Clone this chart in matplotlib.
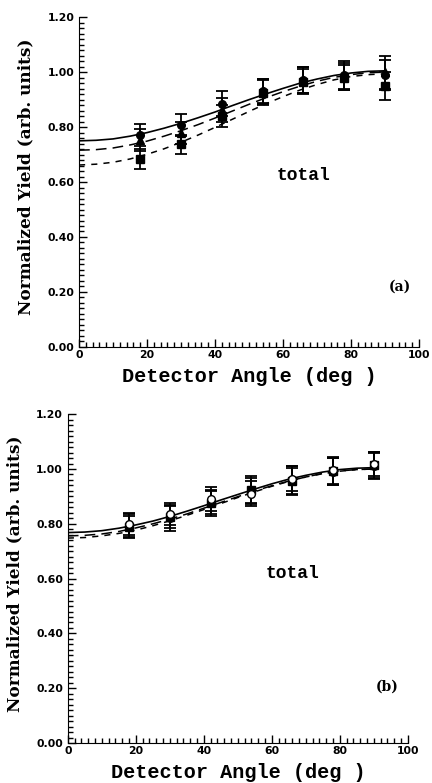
"""Normalized yield vs detector angle, two stacked panels."""

import matplotlib
matplotlib.use("Agg")
import matplotlib.pyplot as plt
from matplotlib.ticker import MultipleLocator, FormatStrFormatter

angles = [18, 30, 42, 54, 66, 78, 90]
curve_angles = [0, 5, 10, 15, 20, 25, 30, 35, 40, 45, 50, 55, 60, 65, 70, 75, 80, 85, 90]

# panel (a)
a_circle = [0.771, 0.807, 0.885, 0.931, 0.971, 0.990, 0.990]
a_circle_err = [0.040, 0.040, 0.045, 0.045, 0.047, 0.050, 0.055]
a_tri = [0.753, 0.778, 0.862, 0.930, 0.970, 0.985, 1.000]
a_tri_err = [0.040, 0.040, 0.045, 0.045, 0.047, 0.050, 0.060]
a_sq = [0.684, 0.738, 0.840, 0.925, 0.965, 0.980, 0.949]
a_sq_err = [0.035, 0.035, 0.040, 0.045, 0.045, 0.045, 0.050]
a_solid = [0.750, 0.752, 0.757, 0.767, 0.780, 0.796, 0.814, 0.834, 0.855, 0.878,
           0.900, 0.921, 0.941, 0.960, 0.975, 0.988, 0.997, 1.003, 1.005]
a_long = [0.716, 0.718, 0.724, 0.735, 0.749, 0.767, 0.787, 0.809, 0.833, 0.858,
          0.883, 0.907, 0.929, 0.949, 0.967, 0.981, 0.991, 0.998, 1.000]
a_short = [0.662, 0.665, 0.672, 0.684, 0.701, 0.721, 0.745, 0.771, 0.799, 0.828,
           0.857, 0.885, 0.911, 0.935, 0.955, 0.972, 0.984, 0.991, 0.994]

# panel (b)
b_sq = [0.790, 0.825, 0.875, 0.925, 0.955, 0.992, 1.014]
b_sq_err = [0.040, 0.042, 0.045, 0.050, 0.050, 0.050, 0.048]
b_open = [0.800, 0.835, 0.890, 0.910, 0.965, 0.995, 1.018]
b_open_err = [0.040, 0.040, 0.045, 0.045, 0.045, 0.050, 0.045]
b_dot = [0.795, 0.820, 0.880, 0.920, 0.960, 0.990, 1.012]
b_dot_err = [0.042, 0.045, 0.045, 0.048, 0.050, 0.050, 0.048]
b_solid = [0.768, 0.770, 0.775, 0.784, 0.796, 0.810, 0.827, 0.846, 0.866, 0.887,
           0.907, 0.927, 0.946, 0.963, 0.977, 0.989, 0.998, 1.003, 1.005]
b_long = [0.756, 0.758, 0.763, 0.772, 0.785, 0.800, 0.817, 0.836, 0.857, 0.878,
          0.899, 0.920, 0.939, 0.956, 0.971, 0.984, 0.993, 0.998, 1.000]
b_short = [0.748, 0.750, 0.756, 0.765, 0.777, 0.793, 0.811, 0.831, 0.852, 0.874,
           0.896, 0.917, 0.937, 0.955, 0.971, 0.983, 0.992, 0.998, 1.000]

TICK_FONT = {"family": "DejaVu Sans", "weight": "bold", "size": 7.8}
LABEL_X = {"family": "Liberation Mono", "weight": "bold", "size": 14.5}
LABEL_Y = {"family": "DejaVu Serif", "weight": "bold", "size": 12.2}


def style_axes(ax):
    ax.set_xlim(0, 100)
    ax.set_ylim(0, 1.2)
    ax.spines["top"].set_visible(False)
    ax.spines["right"].set_visible(False)
    ax.xaxis.set_major_locator(MultipleLocator(20))
    ax.xaxis.set_minor_locator(MultipleLocator(2))
    ax.yaxis.set_major_locator(MultipleLocator(0.2))
    ax.yaxis.set_minor_locator(MultipleLocator(0.02))
    ax.yaxis.set_major_formatter(FormatStrFormatter("%.2f"))
    ax.tick_params(which="both", direction="in", width=1.0)
    ax.tick_params(which="major", length=6)
    ax.tick_params(which="minor", length=3.5)
    ax.tick_params(axis="x", pad=2)
    for lab in ax.get_xticklabels() + ax.get_yticklabels():
        lab.set_fontfamily(TICK_FONT["family"])
        lab.set_fontweight(TICK_FONT["weight"])
        lab.set_fontsize(TICK_FONT["size"])
    ax.set_xlabel("Detector Angle (deg )", fontdict=LABEL_X, labelpad=5)
    ax.set_ylabel("Normalized Yield (arb. units)", fontdict=LABEL_Y)
    ax.yaxis.set_label_coords(-0.13, 0.515)


def draw_points(ax, y, err, marker, fill="black"):
    ax.errorbar(angles, y, yerr=err, fmt=marker, color="black", mfc=fill, mec="black",
                ms=5.5, elinewidth=1.3, capsize=4.5, capthick=1.3)


fig = plt.figure(figsize=(4.32, 7.83), dpi=100)
ax_a = fig.add_axes([0.183, 0.557, 0.787, 0.421])
ax_b = fig.add_axes([0.157, 0.051, 0.787, 0.420])

ax_a.plot(curve_angles, a_solid, color="black", lw=1.2)
ax_a.plot(curve_angles, a_long, color="black", lw=1.1, dashes=(7, 4))
ax_a.plot(curve_angles, a_short, color="black", lw=1.1, dashes=(4, 4))
draw_points(ax_a, a_sq, a_sq_err, "s")
draw_points(ax_a, a_tri, a_tri_err, "^")
draw_points(ax_a, a_circle, a_circle_err, "o")
style_axes(ax_a)
ax_a.text(66, 0.625, "total", family="Liberation Mono", weight="bold", size=13,
          ha="center", va="center")
ax_a.text(94.5, 0.22, "(a)", family="DejaVu Serif", weight="bold", size=10,
          ha="center", va="center")

ax_b.plot(curve_angles, b_solid, color="black", lw=1.2)
ax_b.plot(curve_angles, b_long, color="black", lw=1.1, dashes=(7, 4))
ax_b.plot(curve_angles, b_short, color="black", lw=1.1, dashes=(4, 4))
draw_points(ax_b, b_dot, b_dot_err, "o")
draw_points(ax_b, b_sq, b_sq_err, "s")
draw_points(ax_b, b_open, b_open_err, "o", fill="white")
style_axes(ax_b)
ax_b.text(66, 0.62, "total", family="Liberation Mono", weight="bold", size=13,
          ha="center", va="center")
ax_b.text(94, 0.205, "(b)", family="DejaVu Serif", weight="bold", size=10,
          ha="center", va="center")

fig.savefig("out.png", dpi=100)
